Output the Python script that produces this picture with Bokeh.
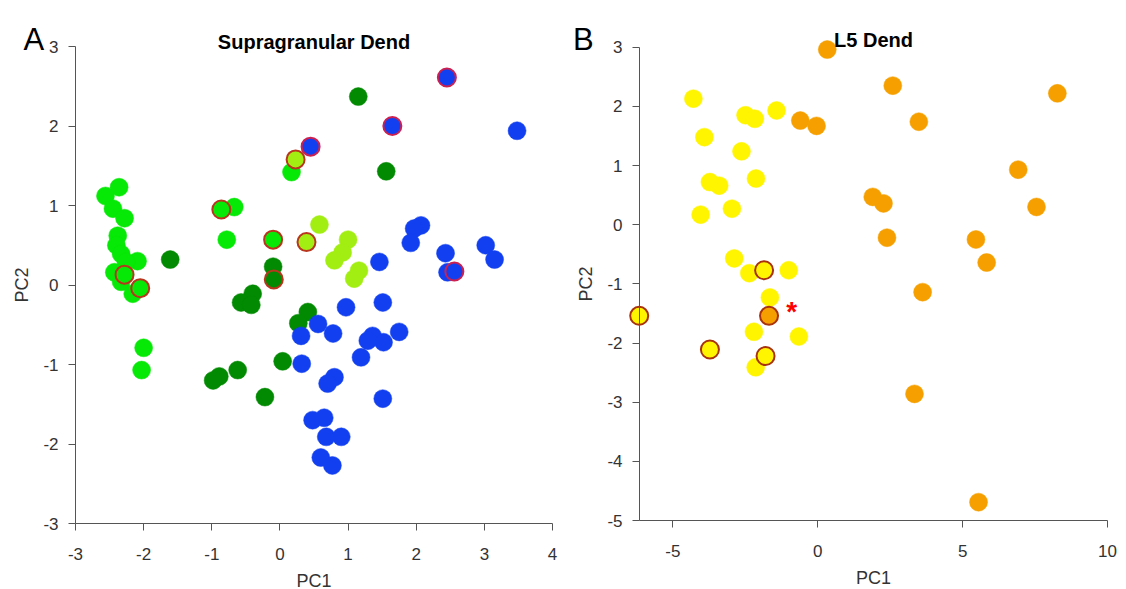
from bokeh.plotting import figure
from bokeh.layouts import row
from bokeh.models import Range1d, FixedTicker, Label
from bokeh.embed import file_html
from bokeh.resources import INLINE
from bokeh.core.properties import value

# ---------------- Panel A data (Supragranular Dend) ----------------
a_title = "Supragranular Dend"
a_xticks = [-3, -2, -1, 0, 1, 2, 3, 4]
a_xlabels = ["-3", "-2", "-1", "0", "1", "2", "3", "4"]
a_yticks = [-3, -2, -1, 0, 1, 2, 3]
a_ylabels = ["-3", "-2", "-1", "0", "1", "2", "3"]

a_lime_x = [-2.36, -2.56, -2.45, -2.28, -2.38, -2.40, -2.33, -2.09, -2.26, -2.43, -2.33, -2.16, -2.00, -2.03, -0.67, -0.78, 0.17]
a_lime_y = [1.23, 1.12, 0.96, 0.84, 0.62, 0.50, 0.39, 0.30, 0.29, 0.16, 0.04, -0.11, -0.79, -1.07, 0.98, 0.57, 1.42]
a_lime_out_x = [-2.28, -2.05, -0.86, -0.10]
a_lime_out_y = [0.13, -0.04, 0.95, 0.57]

a_yg_x = [0.58, 1.00, 0.92, 0.80, 1.16, 1.09]
a_yg_y = [0.76, 0.57, 0.41, 0.31, 0.18, 0.08]
a_yg_out_x = [0.23, 0.39]
a_yg_out_y = [1.58, 0.54]

a_dg_x = [-1.61, -0.10, -0.40, -0.57, -0.42, 0.41, 0.27, 0.04, -0.62, -0.89, -0.98, -0.22, 1.15, 1.56]
a_dg_y = [0.32, 0.23, -0.11, -0.22, -0.25, -0.34, -0.48, -0.96, -1.07, -1.15, -1.20, -1.41, 2.37, 1.43]
a_dg_out_x = [-0.09]
a_dg_out_y = [0.07]

a_blue_x = [3.48, 2.07, 1.97, 1.92, 1.46, 2.43, 2.46, 3.02, 3.15, 0.97, 1.51, 0.56, 0.31, 0.78, 1.36,
            1.29, 1.52, 1.75, 1.19, 0.32, 0.80, 0.70, 1.51, 0.48, 0.65, 0.68, 0.90, 0.60, 0.77]
a_blue_y = [1.94, 0.75, 0.71, 0.53, 0.29, 0.40, 0.16, 0.50, 0.32, -0.28, -0.22, -0.49, -0.64, -0.61, -0.64,
            -0.70, -0.72, -0.59, -0.91, -0.99, -1.16, -1.24, -1.43, -1.70, -1.67, -1.91, -1.91, -2.17, -2.27]
a_blue_out_x = [2.45, 1.65, 0.45, 2.56]
a_blue_out_y = [2.61, 2.00, 1.74, 0.17]

# ---------------- Panel B data (L5 Dend) ----------------
b_title = "L5 Dend"
b_xlim = [-6.15, 10]
b_xticks = [-5, 0, 5, 10]
b_xlabels = ["-5", "0", "5", "10"]
b_yticks = [-5, -4, -3, -2, -1, 0, 1, 2, 3]
b_ylabels = ["-5", "-4", "-3", "-2", "-1", "0", "1", "2", "3"]

b_yel_x = [-4.29, -3.91, -2.49, -2.17, -1.42, -2.63, -3.72, -3.40, -2.13, -4.04, -2.96, -2.88, -2.36, -1.00, -1.65, -2.20, -0.65, -2.14]
b_yel_y = [2.13, 1.48, 1.85, 1.79, 1.93, 1.24, 0.72, 0.66, 0.78, 0.17, 0.27, -0.57, -0.82, -0.77, -1.23, -1.81, -1.89, -2.41]
b_yel_out_x = [-1.85, -6.16, -3.72, -1.80]
b_yel_out_y = [-0.77, -1.54, -2.11, -2.22]

b_org_x = [0.33, 2.59, 8.27, -0.60, -0.04, 3.49, 6.92, 1.90, 2.27, 7.55, 2.39, 5.46, 5.83, 3.62, 3.34, 5.55]
b_org_y = [2.96, 2.35, 2.22, 1.76, 1.67, 1.74, 0.93, 0.47, 0.36, 0.30, -0.22, -0.25, -0.64, -1.14, -2.86, -4.69]
b_org_out_x = [-1.68]
b_org_out_y = [-1.54]

b_star_x = [-0.90]
b_star_y = [-1.39]

FONT = "Liberation Sans"
AXIS_COL = "#555555"
LABEL_COL = "#333333"
SIZE = 18
H = 589


def full_range(lo, hi, px_lo, px_hi, total):
    """Range spanning the whole canvas so that [lo, hi] sits at pixels [px_lo, px_hi]."""
    per_px = (hi - lo) / (px_hi - px_lo)
    return Range1d(lo - px_lo * per_px, hi + (total - px_hi) * per_px)


def make_fig(W, xlim, ylim, box, xticks, xlabels, yticks, ylabels):
    left, right, top, bottom = box
    xr = full_range(xlim[0], xlim[1], left, right, W)
    yr = full_range(ylim[0], ylim[1], H - bottom, H - top, H)
    p = figure(width=W, height=H, output_backend="svg", toolbar_location=None,
               x_range=xr, y_range=yr, min_border=0,
               min_border_left=0, min_border_right=0, min_border_top=0, min_border_bottom=0,
               background_fill_color="white", border_fill_color="white")
    p.xaxis.ticker = FixedTicker(ticks=xticks)
    p.yaxis.ticker = FixedTicker(ticks=yticks)
    p.xaxis.major_label_overrides = {t: s for t, s in zip(xticks, xlabels)}
    p.yaxis.major_label_overrides = {t: s for t, s in zip(yticks, ylabels)}
    p.xaxis.fixed_location = ylim[0]
    p.yaxis.fixed_location = xlim[0]
    p.xaxis.bounds = (xlim[0], xlim[1])
    p.yaxis.bounds = (ylim[0], ylim[1])
    for ax in (p.xaxis[0], p.yaxis[0]):
        ax.axis_line_color = AXIS_COL
        ax.axis_line_width = 1
        ax.major_tick_line_color = AXIS_COL
        ax.major_tick_out = 7
        ax.major_tick_in = 0
        ax.minor_tick_line_color = None
        ax.major_label_text_font = FONT
        ax.major_label_text_font_size = "17px"
        ax.major_label_text_color = LABEL_COL
        ax.axis_label_text_font = FONT
        ax.axis_label_text_font_size = "18px"
        ax.axis_label_text_font_style = "normal"
        ax.axis_label_text_color = LABEL_COL
    p.xaxis.major_label_standoff = 17
    p.yaxis.major_label_standoff = 10
    p.xaxis.axis_label_standoff = 8
    p.yaxis.axis_label_standoff = 8
    p.xaxis.axis_label = "PC1"
    p.yaxis.axis_label = "PC2"
    p.xgrid.visible = False
    p.ygrid.visible = False
    p.outline_line_color = None
    return p


def dots(p, x, y, fill, line=None):
    if line is None:
        p.scatter(x, y, marker="circle", size=SIZE, fill_color=fill, line_color=fill, line_width=0.5)
    else:
        p.scatter(x, y, marker="circle", size=SIZE, fill_color=fill, line_color=line, line_width=2)


def add_text(p, x, y, text, size, bold, x_units="screen"):
    p.add_layout(Label(x=x, y=y, x_units=x_units, y_units="screen", text=text,
                       text_align="center" if x_units == "data" else "left",
                       text_baseline="alphabetic", text_font=FONT, text_font_size=size,
                       text_font_style="bold" if bold else "normal", text_color="black"))


# ---------------- Figure A ----------------
pA = make_fig(560, [min(a_xticks), max(a_xticks)], [min(a_yticks), max(a_yticks)],
              (75, 552, 46, 523), a_xticks, a_xlabels, a_yticks, a_ylabels)

LIME = "#06E806"
YG = "#A2EE12"
DG = "#038A03"
BLUE = "#1240F0"
dots(pA, a_lime_x, a_lime_y, LIME)
dots(pA, a_yg_x, a_yg_y, YG)
dots(pA, a_dg_x, a_dg_y, DG)
dots(pA, a_blue_x, a_blue_y, BLUE)
dots(pA, a_lime_out_x, a_lime_out_y, LIME, "#B8361E")
dots(pA, a_yg_out_x, a_yg_out_y, YG, "#B8361E")
dots(pA, a_dg_out_x, a_dg_out_y, DG, "#B8361E")
dots(pA, a_blue_out_x, a_blue_out_y, BLUE, "#CC2050")

add_text(pA, (min(a_xticks) + max(a_xticks)) / 2, H - 41, a_title, "20px", True, x_units="data")
add_text(pA, 23, H - 38.6, "A", "31px", False)

# ---------------- Figure B ----------------
pB = make_fig(566, b_xlim, [min(b_yticks), max(b_yticks)],
              (79, 547, 46.7, 520), b_xticks, b_xlabels, b_yticks, b_ylabels)

YEL = "#FFF500"
ORG = "#F5A000"
dots(pB, b_yel_x, b_yel_y, YEL)
dots(pB, b_org_x, b_org_y, ORG)
dots(pB, b_yel_out_x, b_yel_out_y, YEL, "#A8320C")
dots(pB, b_org_out_x, b_org_out_y, ORG, "#A8320C")
pB.text(b_star_x, b_star_y, text=["*"], text_color="#FF0000", text_font=value(FONT),
        text_font_size="28px", text_font_style="bold", text_align="center",
        text_baseline="middle", y_offset=5)

add_text(pB, (b_xlim[0] + b_xlim[1]) / 2, H - 39, b_title, "20px", True, x_units="data")
add_text(pB, 12.5, H - 38.6, "B", "31px", False)

layout = row(pA, pB)
open("out.html", "w").write(file_html(layout, INLINE))
